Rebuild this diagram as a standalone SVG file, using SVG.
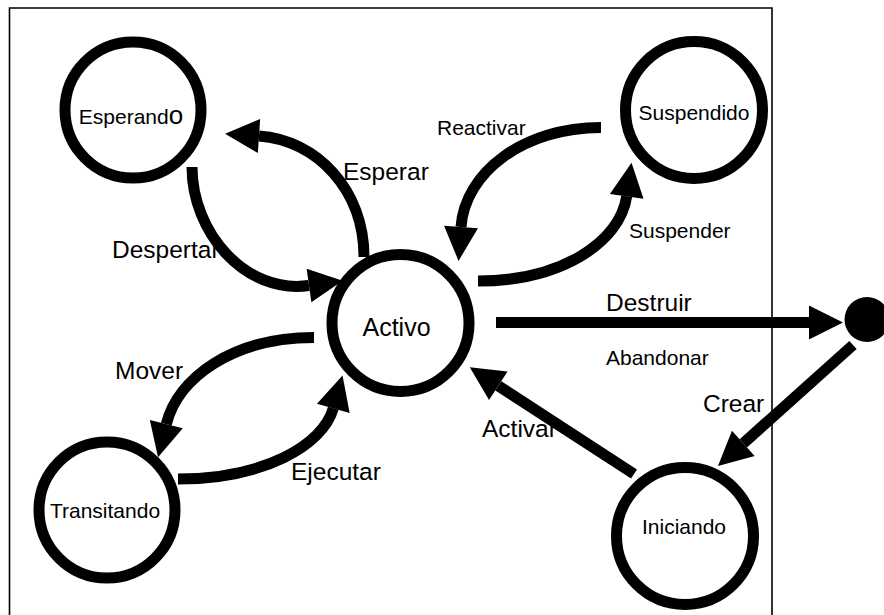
<svg xmlns="http://www.w3.org/2000/svg" width="884" height="615" viewBox="0 0 884 615">
  <style>
    .state { fill: #fff; stroke: #000; stroke-width: 11; }
    .edge { fill: none; stroke: #000; stroke-width: 11; marker-end: url(#head); }
    .txt { font-family: "Liberation Sans", Arial, sans-serif; fill: #000; }
    .node-lbl { font-size: 21px; text-anchor: middle; }
    .lbl-big { font-size: 24.5px; }
    .lbl-small { font-size: 21px; }
  </style>
  <defs>
    <marker id="head" markerUnits="userSpaceOnUse" viewBox="0 -17 34 34" markerWidth="34" markerHeight="34" refX="0" refY="0" orient="auto" overflow="visible">
      <path d="M0,-17 L34,0 L0,17 Z" fill="#000"/>
    </marker>
  </defs>

  <rect width="884" height="615" fill="#fff"/>
  <!-- frame (open at the bottom edge of the canvas) -->
  <path d="M9.5,630 V8 H772 V630" fill="none" stroke="#000" stroke-width="1.6"/>

  <!-- transition labels -->
  <g id="labels" class="txt">
    <text class="lbl-big" x="112" y="258">Despertal</text>
    <text class="lbl-big" x="343" y="180">Esperar</text>
    <text class="lbl-small" x="437" y="135">Reactivar</text>
    <text class="lbl-small" x="629" y="238">Suspender</text>
    <text class="lbl-big" x="606" y="311">Destruir</text>
    <text class="lbl-small" x="606" y="365">Abandonar</text>
    <text class="lbl-big" x="703" y="412">Crear</text>
    <text class="lbl-big" x="482" y="437">Activar</text>
    <text class="lbl-big" x="291" y="480">Ejecutar</text>
    <text class="lbl-big" x="115" y="379">Mover</text>
  </g>

  <!-- transitions -->
  <g id="connectors">
    <path id="e-despertar" class="edge" d="M192,167 C192,232 245,294.5 309,285.5"/>
    <path id="e-esperar" class="edge" d="M364,257 C364,190 317,140 259,136"/>
    <path id="e-reactivar" class="edge" d="M601,127.5 C524,127.5 465,172 461,227"/>
    <path id="e-suspender" class="edge" d="M478,281 C560,281 620,243 626.7,196.3"/>
    <path id="e-mover" class="edge" d="M314,337.5 C233,337.5 178,377.6 166.3,424.2"/>
    <path id="e-ejecutar" class="edge" d="M178,479 C263,479 322.7,445.8 333.3,408.3"/>
    <path id="e-activar" class="edge" d="M634,474 L498.3,385.8"/>
    <path id="e-destruir" class="edge" d="M496,322.5 L809,322.5"/>
    <path id="e-crear" class="edge" d="M853,345 L743.3,443.3"/>
  </g>

  <!-- states -->
  <g id="esperando">
    <circle class="state" cx="133" cy="110" r="68"/>
    <text class="txt node-lbl" x="131" y="124">Esperand<tspan font-size="26">o</tspan></text>
  </g>
  <g id="suspendido">
    <circle class="state" cx="694" cy="110" r="68.5"/>
    <text class="txt node-lbl" x="694" y="120">Suspendido</text>
  </g>
  <g id="activo">
    <circle class="state" cx="400.5" cy="323" r="68.5"/>
    <text class="txt" x="396.5" y="336" font-size="25" text-anchor="middle">Activo</text>
  </g>
  <g id="transitando">
    <circle class="state" cx="107" cy="510" r="68"/>
    <text class="txt node-lbl" x="105" y="518">Transitando</text>
  </g>
  <g id="iniciando">
    <circle class="state" cx="685" cy="536" r="68.5"/>
    <text class="txt node-lbl" x="684" y="534">Iniciando</text>
  </g>
  <g id="fin">
    <circle cx="867" cy="319.5" r="22.5" fill="#000"/>
  </g>
</svg>
